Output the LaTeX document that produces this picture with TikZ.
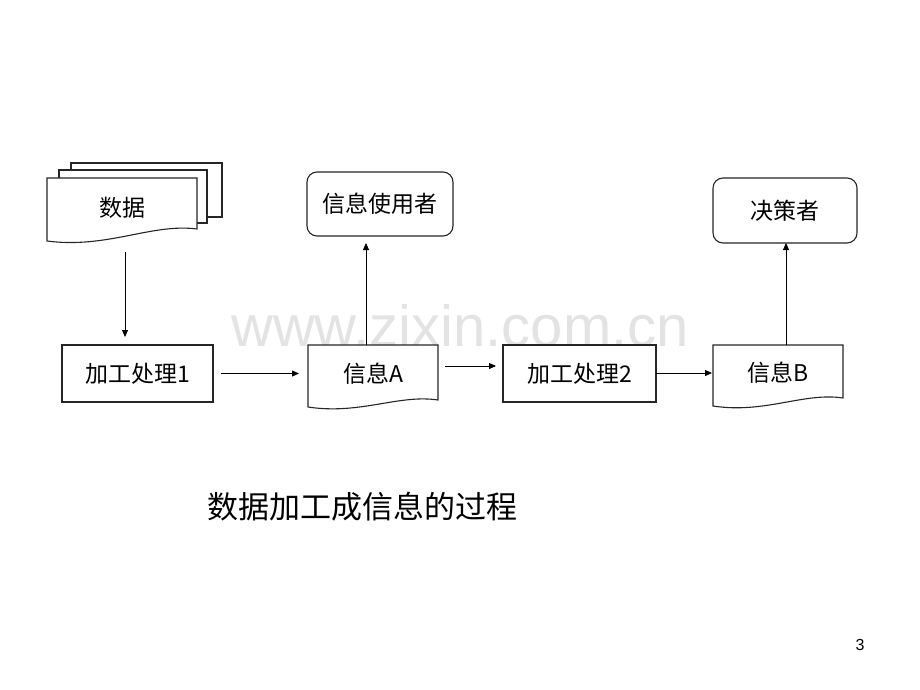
\documentclass[tikz,border=0pt]{standalone}
\usepackage{fontspec}
\setmainfont{Liberation Sans}
\newfontfamily\cjk{Noto Sans CJK SC}
\usetikzlibrary{calc,arrows.meta,backgrounds}
\newcommand\mydoc[3]{%
  \draw[docline] (#1.north west) -- (#1.north east) -- ($(#1.south east)+(0,-#2)$)
    .. controls ($(#1.south east)!0.3!(#1.south west)+(0,-#2-6)$) and ($(#1.south east)!0.6!(#1.south west)+(0,#3+8)$)
    .. ($(#1.south west)+(0,#3)$) -- cycle;}
\begin{document}
\begin{tikzpicture}[x=1pt,y=-1pt,
  lbl/.style={font=\cjk\fontsize{23}{27}\selectfont, inner sep=0pt, outer sep=0pt},
  boxn/.style={lbl, draw=black!85, line width=1.1pt, fill=white},
  docnode/.style={lbl},
  docline/.style={draw=black!85, line width=1.1pt, fill=white},
  roundn/.style={boxn, rounded corners=10pt},
  arr/.style={draw=black, line width=0.8pt, -{Triangle[length=7pt,width=6pt]}}]
\useasboundingbox (0,0) rectangle (920,690);

% nodes
\node[docnode, minimum width=150pt, minimum height=60pt] (data) at (122,208) {数据};
\node[boxn, minimum width=151pt, minimum height=57pt] (p1) at (137.5,373.5) {加工处理1};
\node[boxn, minimum width=153pt, minimum height=57pt] (p2) at (579.5,373.5) {加工处理2};
\node[docnode, minimum width=130pt, minimum height=58pt] (A) at (373,374) {信息A};
\node[docnode, minimum width=130pt, minimum height=56pt] (B) at (778,373) {信息B};
\node[roundn, minimum width=146pt, minimum height=64pt] (user) at (380,204) {信息使用者};
\node[roundn, minimum width=144pt, minimum height=65pt] (dec) at (785,210.5) {决策者};

\begin{pgfonlayer}{background}
\fill[white] (0,0) rectangle (920,690);
\node[font=\fontsize{58}{60}\selectfont, text=black!11, inner sep=0pt] (wm) at (460,326) {www.zixin.com.cn};
\draw[docline] (71,163) rectangle (222,217);
\draw[docline] (59,170) rectangle (207,223);
\mydoc{data}{9}{3}
\mydoc{A}{3}{4}
\mydoc{B}{3}{5}
\end{pgfonlayer}

% arrows
\coordinate (c1) at (125,0);
\coordinate (c2) at (366,0);
\coordinate (c3) at (786,0);
\coordinate (r2) at (0,366);
\draw[arr, shorten <=14pt, shorten >=8pt] (data.south -| c1) -- (p1.north -| c1);
\draw[arr, shorten <=8pt, shorten >=9pt] (p1.east) -- (p1.east -| A.west);
\draw[arr, shorten <=7pt, shorten >=7pt] (A.east |- r2) -- (p2.west |- r2);
\draw[arr, shorten >=1pt] (p2.east |- B.west) -- (B.west);
\draw[arr, shorten >=7pt] (A.north -| c2) -- (user.south -| c2);
\draw[arr] (B.north -| c3) -- (dec.south -| c3);

% caption and page number
\node[font=\cjk\fontsize{31}{35}\selectfont, inner sep=0pt] (cap) at (362,507) {数据加工成信息的过程};
\node[font=\fontsize{16}{18}\selectfont, inner sep=0pt] (pg) at (860,645) {3};
\end{tikzpicture}
\end{document}
